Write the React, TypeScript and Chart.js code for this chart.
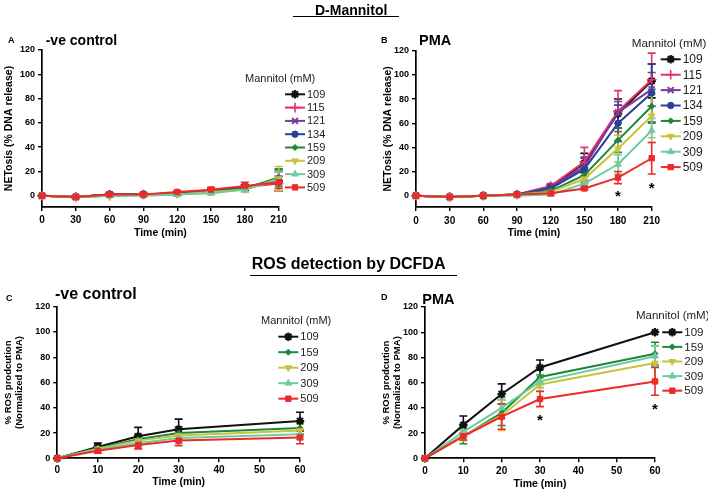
import React, { useEffect, useRef } from 'react';
import { Chart, registerables } from 'chart.js';
import { drawPoint } from 'chart.js/helpers';

Chart.register(...registerables);

const FONT = '"Liberation Sans", Arial, Helvetica, sans-serif';

// ---------- data ----------
const netTimes = [0, 30, 60, 90, 120, 150, 180, 210];
const netXTicks = [0, 30, 60, 90, 120, 150, 180, 210];
const rosTimes = [0, 10, 20, 30, 60];
const rosXTicks = [0, 10, 20, 30, 40, 50, 60];
const yTicks = [0, 20, 40, 60, 80, 100, 120];

const netConcs = ['109', '115', '121', '134', '159', '209', '309', '509'];
const rosConcs = ['109', '159', '209', '309', '509'];

// Panel A: NETosis, -ve control
const netCtrlValues = [
  [0, -1, 1, 1, 2, 4, 7, 12],
  [0, -1, 0, 1, 2, 4, 7, 10],
  [0, -1, 1, 1, 2, 4, 7, 12],
  [0, -1, 1, 1, 2, 4, 7, 13],
  [0, -1, 0, 1, 1, 3, 6, 15],
  [0, -1, 0, 1, 1, 3, 5, 14],
  [0, -1, 0, 0, 1, 2, 5, 13],
  [0, -1, 1, 1, 3, 5, 8, 11],
];
const netCtrlErrors = [
  [0, 1, 1, 1, 1, 1, 2, 8],
  [0, 1, 1, 1, 1, 1, 2, 6],
  [0, 1, 1, 1, 1, 1, 2, 8],
  [0, 1, 1, 1, 1, 1, 2, 9],
  [0, 1, 1, 1, 1, 1, 2, 7],
  [0, 1, 1, 1, 1, 1, 2, 10],
  [0, 1, 1, 1, 1, 1, 2, 7],
  [0, 1, 1, 1, 1, 2, 3, 5],
];

// Panel B: NETosis, PMA
const netPmaValues = [
  [0, -1, 0, 1, 7, 27, 68, 95],
  [0, -1, 0, 1, 8, 28, 70, 96],
  [0, -1, 0, 1, 7, 24, 69, 88],
  [0, -1, 0, 1, 6, 22, 60, 85],
  [0, -1, 0, 1, 4, 17, 46, 74],
  [0, -1, 0, 1, 3, 14, 39, 66],
  [0, -1, 0, 0, 1, 10, 26, 54],
  [0, -1, 0, 1, 2, 6, 15, 31],
];
const netPmaErrors = [
  [0, 0, 0, 1, 2, 8, 12, 14],
  [0, 0, 0, 1, 2, 12, 17, 22],
  [0, 0, 0, 1, 2, 8, 9, 14],
  [0, 0, 0, 1, 2, 9, 15, 24],
  [0, 0, 0, 1, 2, 6, 10, 14],
  [0, 0, 0, 1, 1, 4, 11, 18],
  [0, 0, 0, 0, 1, 3, 8, 10],
  [0, 0, 0, 1, 1, 1, 5, 13],
];
const netPmaStarX = [180, 210];
const netPmaStarY = [2.5, 9];

// Panel C: ROS, -ve control
const rosCtrlValues = [
  [0, 9, 17.5, 23, 29.5],
  [0, 8, 15, 20, 24],
  [0, 7.5, 14, 18, 22],
  [0, 7, 12, 16, 19],
  [0, 6, 10.5, 14, 16.5],
];
const rosCtrlErrors = [
  [0, 3, 7, 8, 7],
  [0, 2, 4, 5, 5],
  [0, 2, 4, 4, 5],
  [0, 2, 3, 4, 4],
  [0, 2, 3, 4, 5],
];

// Panel D: ROS, PMA
const rosPmaValues = [
  [0, 26.5, 51, 72, 100],
  [0, 17.5, 36, 64.5, 83],
  [0, 18, 34, 58.5, 75.5],
  [0, 21, 40, 61, 81],
  [0, 17.5, 33, 47, 61],
];
const rosPmaErrors = [
  [0, 7, 8, 6, 0],
  [0, 6, 10, 6, 9],
  [0, 4, 12, 5, 14],
  [0, 4, 8, 5, 8],
  [0, 3, 10, 6, 11],
];
const rosPmaStarX = [30, 60];
const rosPmaStarY = [33, 41.6];

// ---------- styles ----------
const STYLE: any = {
  '109': { color: '#111111', pointStyle: 'star', radius: 4.2, bw: 2.2 },
  '115': { color: '#e3336c', pointStyle: 'cross', radius: 4.8, bw: 1.6 },
  '121': { color: '#7b3a9b', pointStyle: 'crossRot', radius: 4.2, bw: 2 },
  '134': { color: '#2c3f9c', pointStyle: 'circle', radius: 3.2, bw: 1 },
  '159': { color: '#1e873b', pointStyle: 'rectRot', radius: 3, bw: 1 },
  '209': { color: '#c8c23c', pointStyle: 'triangle', radius: 3.8, rotation: 180, bw: 1 },
  '309': { color: '#6fcb9f', pointStyle: 'triangle', radius: 3.8, bw: 1 },
  '509': { color: '#ec2a2a', pointStyle: 'rect', radius: 3.8, bw: 1 },
};

const panels: any[] = [
  {
    key: 'A', left: 0, top: 0, width: 354, height: 245,
    pad: { left: 3, right: 75.3, top: 50, bottom: 5.7 },
    yWidth: 39, xHeight: 32.3, yMin: -9.3, xMax: 210, xTickPad: 3.7,
    times: netTimes, xTicks: netXTicks, concs: netConcs, values: netCtrlValues, errors: netCtrlErrors,
    yTitle: 'NETosis (% DNA release)', yTitleSize: 10.5,
    legend: { titleX: 245, titleY: 79, x1: 285, x2: 305, y0: 94.3, dy: 13.3, size: 11, titleSize: 11 },
    starX: [], starY: [],
  },
  {
    key: 'B', left: 354, top: 0, width: 354, height: 245,
    pad: { left: 27.7, right: 56.3, top: 50.7, bottom: 5.7 },
    yWidth: 34.3, xHeight: 32.3, yMin: -9.35, xMax: 210, xTickPad: 4,
    times: netTimes, xTicks: netXTicks, concs: netConcs, values: netPmaValues, errors: netPmaErrors,
    yTitle: 'NETosis (% DNA release)', yTitleSize: 10.5,
    legend: { titleX: 277.7, titleY: 43.3, x1: 306.7, x2: 326.7, y0: 59.3, dy: 15.4, size: 12, titleSize: 11.7 },
    starX: netPmaStarX, starY: netPmaStarY,
  },
  {
    key: 'C', left: 0, top: 245, width: 354, height: 246,
    pad: { left: 2.25, right: 54, top: 61.7, bottom: 2.4 },
    yWidth: 55.05, xHeight: 30.3, yMin: 0, xMax: 60, xTickPad: 1.7,
    times: rosTimes, xTicks: rosXTicks, concs: rosConcs, values: rosCtrlValues, errors: rosCtrlErrors,
    yTitle: ['% ROS prodcution', '(Normalized to PMA)'], yTitleSize: 9.5,
    legend: { titleX: 261, titleY: 76, x1: 278.3, x2: 298.3, y0: 91.7, dy: 15.5, size: 11, titleSize: 11 },
    starX: [], starY: [],
  },
  {
    key: 'D', left: 354, top: 245, width: 354, height: 246,
    pad: { left: 26.75, right: 53, top: 62, bottom: 0.7 },
    yWidth: 44.25, xHeight: 32, yMin: 0, xMax: 60, xTickPad: 3.4,
    times: rosTimes, xTicks: rosXTicks, concs: rosConcs, values: rosPmaValues, errors: rosPmaErrors,
    yTitle: ['% ROS prodcution', '(Normalized to PMA)'], yTitleSize: 9.5,
    legend: { titleX: 282, titleY: 70.7, x1: 308.3, x2: 328.3, y0: 87.3, dy: 14.6, size: 11.5, titleSize: 11.5 },
    starX: rosPmaStarX, starY: rosPmaStarY,
  },
];

function Panel({ cfg }: { cfg: any }) {
  const ref = useRef<HTMLCanvasElement>(null);
  useEffect(() => {
    const errorPlugin = {
      id: 'errbars',
      beforeDatasetsDraw(chart: any) {
        const { ctx } = chart;
        const xs = chart.scales.x;
        const ys = chart.scales.y;
        ctx.save();
        chart.data.datasets.forEach((ds: any) => {
          ctx.strokeStyle = ds.borderColor;
          ctx.lineWidth = 1.6;
          ds.data.forEach((p: any, j: number) => {
            const e = ds.errors[j];
            if (!e) return;
            const px = xs.getPixelForValue(p.x);
            const yt = ys.getPixelForValue(p.y + e);
            const yb = ys.getPixelForValue(p.y - e);
            ctx.beginPath();
            ctx.moveTo(px, yt);
            ctx.lineTo(px, yb);
            ctx.moveTo(px - 4, yt);
            ctx.lineTo(px + 4, yt);
            ctx.moveTo(px - 4, yb);
            ctx.lineTo(px + 4, yb);
            ctx.stroke();
          });
        });
        ctx.restore();
      },
    };
    const starPlugin = {
      id: 'stars',
      afterDatasetsDraw(chart: any) {
        const { ctx } = chart;
        ctx.save();
        ctx.fillStyle = '#000';
        ctx.font = `bold 15px ${FONT}`;
        ctx.textAlign = 'center';
        ctx.textBaseline = 'alphabetic';
        cfg.starX.forEach((sx: number, i: number) => {
          const px = chart.scales.x.getPixelForValue(sx);
          const py = chart.scales.y.getPixelForValue(cfg.starY[i]);
          ctx.fillText('*', px, py + 15 * 0.55);
        });
        ctx.restore();
      },
    };
    const legendPlugin = {
      id: 'customLegend',
      afterDraw(chart: any) {
        const { ctx } = chart;
        const L = cfg.legend;
        ctx.save();
        ctx.textBaseline = 'middle';
        ctx.textAlign = 'left';
        ctx.fillStyle = '#222';
        ctx.font = `${L.titleSize}px ${FONT}`;
        ctx.fillText('Mannitol (mM)', L.titleX, L.titleY);
        cfg.concs.forEach((c: string, i: number) => {
          const s = STYLE[c];
          const y = L.y0 + i * L.dy;
          ctx.strokeStyle = s.color;
          ctx.fillStyle = s.color;
          ctx.lineWidth = 2;
          ctx.beginPath();
          ctx.moveTo(L.x1, y);
          ctx.lineTo(L.x2, y);
          ctx.stroke();
          ctx.lineWidth = s.bw;
          drawPoint(ctx, { pointStyle: s.pointStyle, rotation: s.rotation || 0, radius: s.radius, borderWidth: s.bw } as any, (L.x1 + L.x2) / 2, y);
          ctx.fillStyle = '#222';
          ctx.font = `${L.size}px ${FONT}`;
          ctx.fillText(c, L.x2 + 2, y + 0.5);
        });
        ctx.restore();
      },
    };

    const chart = new Chart(ref.current as HTMLCanvasElement, {
      type: 'line',
      data: {
        datasets: cfg.concs.map((c: string, i: number) => {
          const s = STYLE[c];
          return {
            label: c,
            data: cfg.times.map((t: number, j: number) => ({ x: t, y: cfg.values[i][j] })),
            errors: cfg.errors[i],
            borderColor: s.color,
            backgroundColor: s.color,
            borderWidth: 2,
            pointStyle: s.pointStyle,
            pointRadius: s.radius,
            pointRotation: s.rotation || 0,
            pointBorderWidth: s.bw,
            pointBackgroundColor: s.color,
            pointBorderColor: s.color,
            tension: 0,
            clip: false,
            order: cfg.concs.length - 1 - i,
          } as any;
        }),
      },
      options: {
        responsive: false,
        animation: false,
        devicePixelRatio: 1,
        layout: { padding: cfg.pad },
        plugins: { legend: { display: false }, tooltip: { enabled: false } },
        scales: {
          x: {
            type: 'linear',
            min: 0,
            max: cfg.xMax,
            afterBuildTicks: (s: any) => {
              s.ticks = cfg.xTicks.map((v: number) => ({ value: v }));
            },
            afterFit: (s: any) => {
              s.height = cfg.xHeight;
            },
            grid: { drawOnChartArea: false, drawTicks: true, tickLength: 4, color: '#000', lineWidth: 1.4 },
            border: { display: true, color: '#000', width: 1.7 },
            ticks: {
              color: '#000', padding: cfg.xTickPad, maxRotation: 0, autoSkip: false,
              font: { family: FONT, size: 10, weight: 'bold' },
            },
            title: {
              display: true, text: 'Time (min)', color: '#000',
              font: { family: FONT, size: 10.5, weight: 'bold' },
              padding: { top: 0, bottom: 0 },
            },
          },
          y: {
            type: 'linear',
            min: cfg.yMin,
            max: 120,
            afterBuildTicks: (s: any) => {
              s.ticks = yTicks.map((v: number) => ({ value: v }));
            },
            afterFit: (s: any) => {
              s.width = cfg.yWidth;
            },
            grid: { drawOnChartArea: false, drawTicks: true, tickLength: 4, color: '#000', lineWidth: 1.4 },
            border: { display: true, color: '#000', width: 1.7 },
            ticks: {
              color: '#000', padding: 3,
              font: { family: FONT, size: 9, weight: 'bold' },
            },
            title: {
              display: true, text: cfg.yTitle, color: '#000',
              font: { family: FONT, size: cfg.yTitleSize, weight: 'bold', lineHeight: 1.2 },
              padding: { top: 0, bottom: 0 },
            },
          },
        },
      } as any,
      plugins: [errorPlugin, starPlugin, legendPlugin],
    });
    return () => chart.destroy();
  }, []);
  return (
    <canvas
      ref={ref}
      width={cfg.width}
      height={cfg.height}
      style={{ position: 'absolute', left: cfg.left, top: cfg.top, width: cfg.width, height: cfg.height }}
    />
  );
}

function Txt({ x, base, size, children, weight = 700 }: any) {
  return (
    <div
      style={{
        position: 'absolute', left: x, top: base - 0.8465 * size, fontSize: size,
        lineHeight: `${size}px`, fontWeight: weight, whiteSpace: 'nowrap', color: '#000',
      }}
    >
      {children}
    </div>
  );
}

export default function App() {
  return (
    <div
      style={{
        position: 'absolute', left: 0, top: 0, width: 708, height: 491,
        background: '#fff', overflow: 'hidden', fontFamily: FONT,
      }}
    >
      {panels.map((p) => (
        <Panel key={p.key} cfg={p} />
      ))}
      <Txt x={315} base={14.5} size={14}>D-Mannitol</Txt>
      <div style={{ position: 'absolute', left: 293, top: 16, width: 106, borderTop: '1.5px solid #000' }} />
      <Txt x={251.7} base={269.5} size={16}>ROS detection by DCFDA</Txt>
      <div style={{ position: 'absolute', left: 250, top: 275, width: 207, borderTop: '1.5px solid #000' }} />

      <Txt x={8} base={44} size={9}>A</Txt>
      <Txt x={45.7} base={45} size={14}>-ve control</Txt>
      <Txt x={381} base={44} size={9}>B</Txt>
      <Txt x={419} base={45.7} size={14.5}>PMA</Txt>
      <Txt x={6} base={301.7} size={9}>C</Txt>
      <Txt x={55} base={300} size={16}>-ve control</Txt>
      <Txt x={381} base={301} size={9}>D</Txt>
      <Txt x={422.3} base={304} size={14.5}>PMA</Txt>
    </div>
  );
}
